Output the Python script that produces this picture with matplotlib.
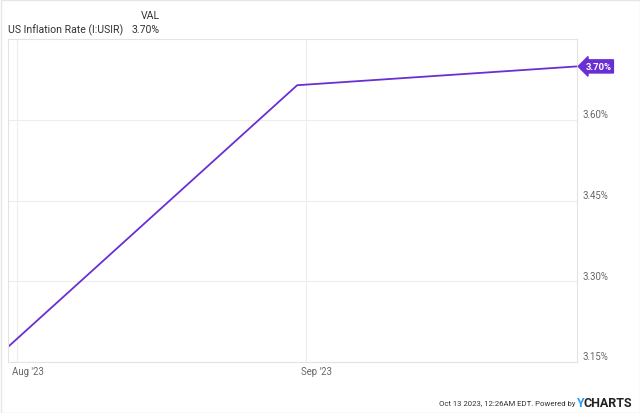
import matplotlib
matplotlib.use("Agg")
import matplotlib.pyplot as plt
import matplotlib.dates as mdates
import pandas as pd
from matplotlib.patches import Rectangle

plt.rcParams['font.family'] = ['Roboto', 'DejaVu Sans']

dates = pd.to_datetime(['2023-07-31', '2023-08-31', '2023-09-30'])
values = [3.178, 3.665, 3.70]
yticks = [3.15, 3.30, 3.45, 3.60]
xticks = pd.to_datetime(['2023-08-01', '2023-09-01'])
xlabels = ["Aug '23", "Sep '23"]

W, H = 640, 414
fig = plt.figure(figsize=(6.4, 4.14), dpi=100)
ax = fig.add_axes([8 / W, 1 - 363 / H, (577 - 8) / W, (363 - 40) / H])

line_color = '#6a2fd3'
ax.plot(dates, values, color=line_color, lw=1.3, solid_capstyle='butt')

ax.set_xlim(pd.Timestamp('2023-07-31'), pd.Timestamp('2023-09-30'))
ax.set_ylim(3.15, 3.751)

ax.set_xticks(xticks)
ax.set_xticklabels([])
ax.set_yticks(yticks)
ax.set_yticklabels([])
ax.tick_params(length=0)
ax.grid(True, color='#ededed', lw=0.8)
ax.set_axisbelow(True)
for s in ax.spines.values():
    s.set_color('#e3e3e3')
    s.set_linewidth(0.8)

# x tick labels, left aligned near the gridline
for d, lab in zip(xticks, xlabels):
    ax.annotate(lab, xy=(mdates.date2num(d), 3.15), xycoords='data',
                xytext=(-4, -3), textcoords='offset points',
                ha='left', va='top', fontsize=6.9, color='#666666')

# y tick labels just above gridlines, right of plot
for v in yticks:
    ax.annotate(f"{v:.2f}%", xy=(1, v), xycoords=('axes fraction', 'data'),
                xytext=(4, 0.5), textcoords='offset points',
                ha='left', va='bottom', fontsize=6.9, color='#666666')

# last value tag
last = values[-1]
ax.annotate(f"{last:.2f}%", xy=(1, last), xycoords=('axes fraction', 'data'),
            xytext=(6, 0), textcoords='offset points',
            ha='left', va='center', fontsize=6.8, color='white', fontweight='bold',
            bbox=dict(boxstyle='larrow,pad=0.22', fc=line_color, ec=line_color))

# header
fig.text(8 / W, 1 - 30 / H, "US Inflation Rate (I:USIR)", fontsize=7.6, color='#333333',
         ha='left', va='center')
fig.text(132 / W, 1 - 30 / H, "3.70%", fontsize=7.6, color='#333333', ha='left', va='center')
fig.text(141 / W, 1 - 16 / H, "VAL", fontsize=7.6, color='#333333', ha='left', va='center')

# footer
fig.text(575 / W, 1 - 404 / H, "Oct 13 2023, 12:26AM EDT. Powered by", fontsize=5.6,
         color='#333333', ha='right', va='center')
fig.text(576 / W, 1 - 404 / H, "Y", fontsize=9, color='#2a9df4', fontweight='bold',
         ha='left', va='center')
fig.text(584 / W, 1 - 404 / H, "CHARTS", fontsize=9, color='#222222', fontweight='bold',
         ha='left', va='center')

# outer frame
fig.patches.append(Rectangle((0.5 / W, 0.5 / H), 1 - 1 / W, 1 - 1 / H, transform=fig.transFigure,
                             fill=False, ec='#e6e6e6', lw=1))

fig.savefig('out.png', dpi=100)
